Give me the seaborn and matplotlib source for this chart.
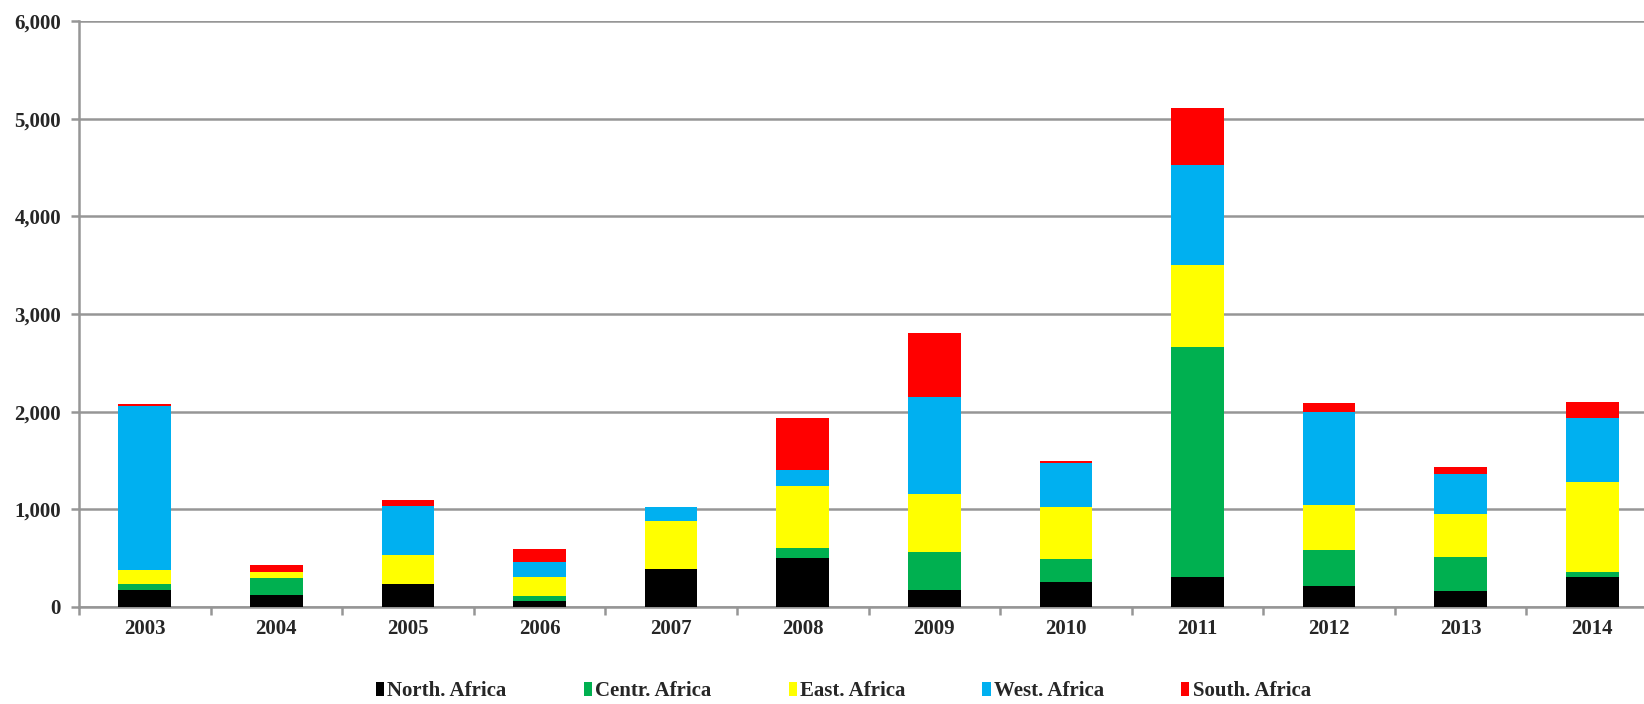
import numpy as np
import matplotlib
matplotlib.use('Agg')
import matplotlib.pyplot as plt
import seaborn as sns
from matplotlib.ticker import FuncFormatter, FixedLocator
from matplotlib.patches import Patch

YEARS = ['2003', '2004', '2005', '2006', '2007', '2008',
         '2009', '2010', '2011', '2012', '2013', '2014']

NORTH = [175, 127, 233, 58, 389, 498, 177, 259, 311, 215, 167, 307]
CENTR = [60, 173, 0, 55, 0, 106, 386, 232, 2355, 369, 342, 51]
EAST  = [140, 55, 297, 191, 495, 635, 597, 529, 836, 460, 443, 922]
WEST  = [1680, 0, 509, 153, 140, 160, 987, 458, 1024, 949, 406, 655]
SOUTH = [22, 75, 55, 137, 0, 536, 658, 20, 580, 92, 72, 161]

SERIES = [
    ('North. Africa', NORTH, '#000000'),
    ('Centr. Africa', CENTR, '#00B050'),
    ('East. Africa',  EAST,  '#FFFF00'),
    ('West. Africa',  WEST,  '#00B0F0'),
    ('South. Africa', SOUTH, '#FF0000'),
]

FS = 15

sns.set_style('white')
plt.rcParams['font.family'] = ['Liberation Serif', 'DejaVu Serif']
plt.rcParams['font.weight'] = 'bold'

fig = plt.figure(figsize=(16.44, 7.04), dpi=100)
# plot area runs slightly past the right edge of the picture (cropped chart)
ax = fig.add_axes([79 / 1644, 1 - 607 / 704, 1579 / 1644, 586 / 704])

# Stacked bars
bottom = np.zeros(len(YEARS))
for name, vals, col in SERIES:
    vals = np.array(vals, dtype=float)
    sns.barplot(x=YEARS, y=vals, bottom=bottom, color=col, width=0.40,
                saturation=1, edgecolor='none', ax=ax, zorder=3)
    bottom += vals

ax.set_xlim(-0.5, len(YEARS) - 0.5)
ax.set_ylim(0, 6000)
ax.set_yticks(np.arange(0, 6001, 1000))
ax.yaxis.set_major_formatter(FuncFormatter(lambda v, p: f'{int(v):,}'))
ax.grid(axis='y', color='#969696', linewidth=1.8, zorder=0)
ax.grid(axis='x', visible=False)

for side in ['top', 'right']:
    ax.spines[side].set_visible(False)
for side in ['left', 'bottom']:
    ax.spines[side].set_color('#969696')
    ax.spines[side].set_linewidth(1.8)

ax.tick_params(axis='y', which='major', length=6, width=1.8, color='#969696',
               labelsize=FS, pad=7, left=True)
ax.tick_params(axis='x', which='major', length=0, labelsize=FS, pad=9)
ax.xaxis.set_minor_locator(FixedLocator(np.arange(-0.5, len(YEARS), 1)))
ax.tick_params(axis='x', which='minor', length=6, width=1.8, color='#969696',
               bottom=True)
for lab in ax.get_xticklabels() + ax.get_yticklabels():
    lab.set_fontweight('bold')
ax.set_xlabel('')
ax.set_ylabel('')

# Legend
handles = [Patch(facecolor=col, edgecolor='none', label=name)
           for name, _, col in SERIES]
fig.legend(handles=handles, loc='center', bbox_to_anchor=(0.513, 0.018),
           ncol=5, frameon=False, handletextpad=0.15,
           columnspacing=3.7, handlelength=0.4, handleheight=0.6,
           prop={'weight': 'bold', 'size': FS})

fig.savefig('out.png', dpi=100)
